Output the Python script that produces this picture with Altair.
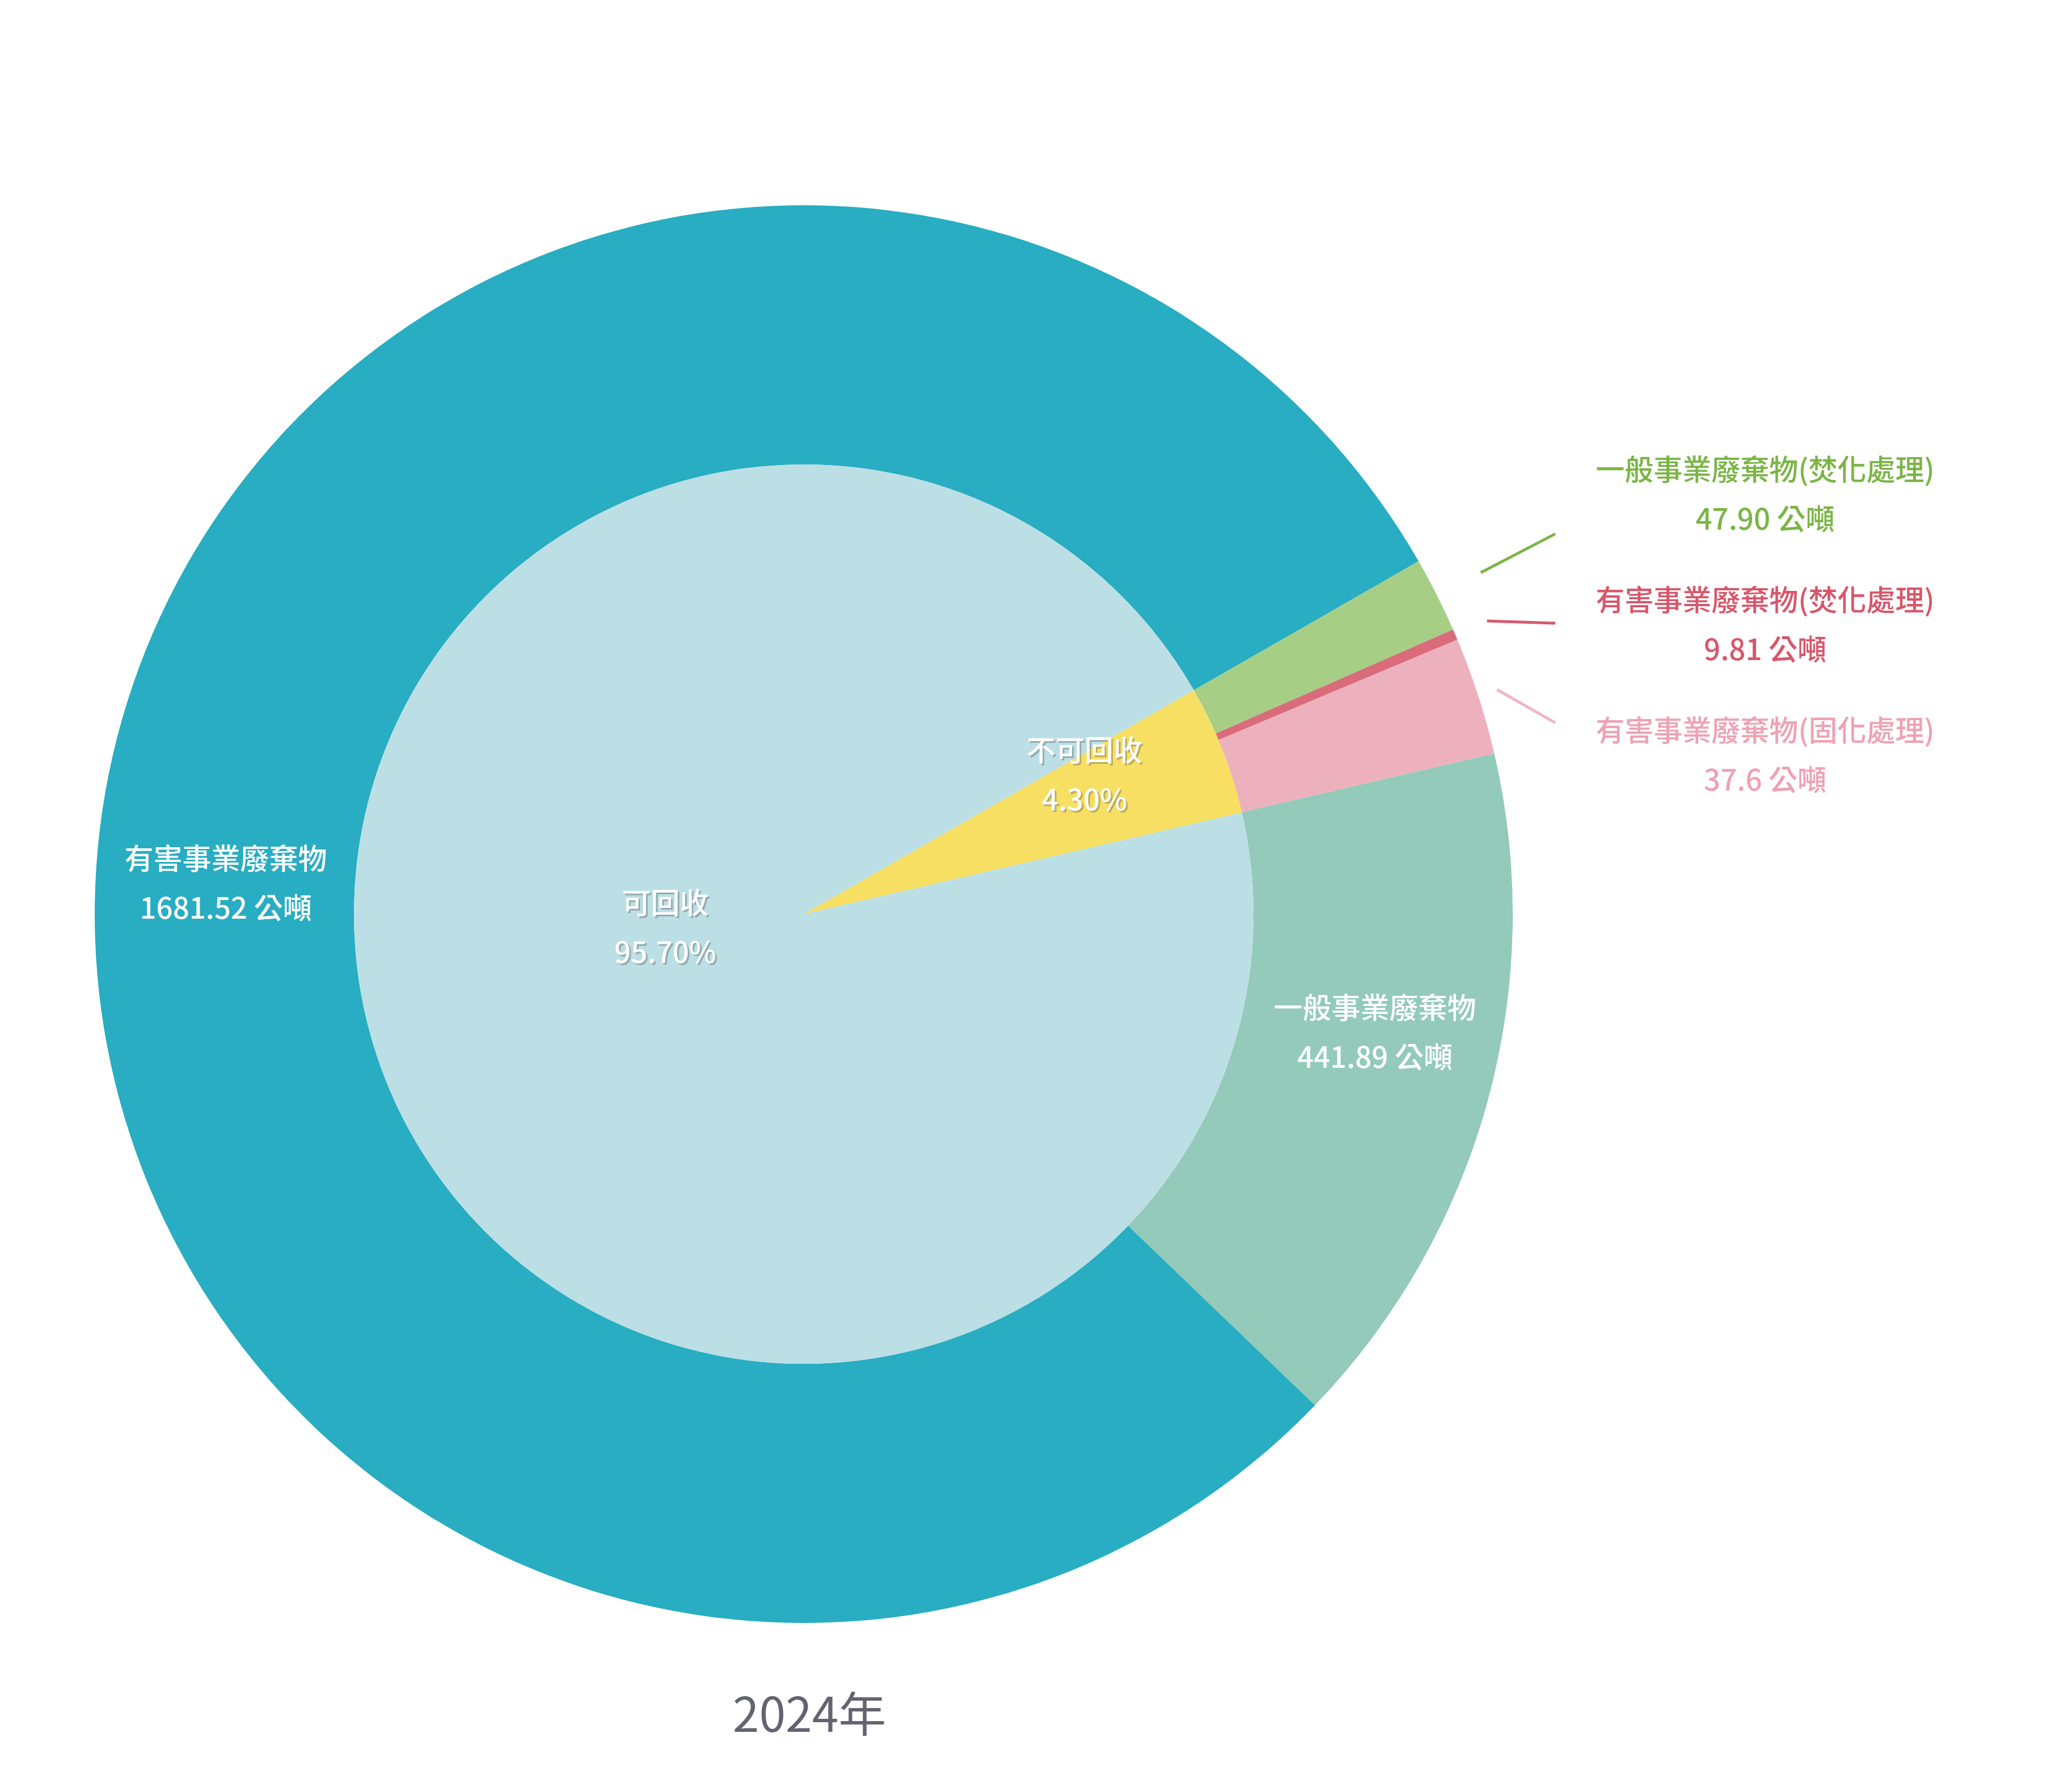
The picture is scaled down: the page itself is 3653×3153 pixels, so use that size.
import math
import altair as alt
import pandas as pd

# ---------------- data ----------------
outer_names = ["一般事業廢棄物(焚化處理)", "有害事業廢棄物(焚化處理)",
               "有害事業廢棄物(固化處理)", "一般事業廢棄物", "有害事業廢棄物"]
outer_tonnes = ["47.90", "9.81", "37.6", "441.89", "1681.52"]
# share of the outer ring (percent of the circle) as drawn in the picture
outer_share = [1.72, 0.25, 2.69, 15.82, 79.52]

inner_names = ["不可回收", "可回收"]
inner_pct = ["4.30%", "95.70%"]
# share of the inner pie (percent of the circle) as drawn in the picture
inner_share = [4.67, 95.33]

title_text = ["2024年"]

# ---------------- styles ----------------
outer_colors = ["#a6cf85", "#da6b7b", "#edb1bd", "#93cab9", "#28adc2"]
label_colors = ["#7ab545", "#d8566a", "#eea2b2"]
line_colors = ["#7cb446", "#d9596c", "#f1b6c2"]
inner_colors = ["#f7df64", "#bbdfe4"]

FONT = "Noto Sans CJK TC"
W, H = 3637, 3137
CX, CY = 1409, 1604
R_OUT, R_IN = 1250, 793
R_RING_LABEL = (R_OUT + R_IN) / 2
R_PIE_LABEL = R_IN / 2
START = math.radians(60.13)
RS0, RS_STEP = 1337, 26   # leader line start radius
EX = 2734                 # leader line end x
RLX = 3104                # right label x
LY0, LSTEP = 865, 230
FS = 51
LH = 87
UP = -41                  # shift so a two-line block is centred on its anchor

outer_df = pd.DataFrame({
    "name": outer_names,
    "share": outer_share,
    "idx": list(range(len(outer_names))),
    "label": [n + "\n" + t + " 公噸" for n, t in zip(outer_names, outer_tonnes)],
})
inner_df = pd.DataFrame({
    "name": inner_names,
    "share": inner_share,
    "idx": list(range(len(inner_names))),
    "label": [n + "\n" + p for n, p in zip(inner_names, inner_pct)],
})
title_df = pd.DataFrame({"t": title_text})

TS = alt.Scale(domain=[0, 100], range=[START, START + 2 * math.pi])


def with_angles(df):
    return (alt.Chart(df)
            .transform_window(cum="sum(share)",
                              sort=[alt.SortField("idx", order="ascending")],
                              frame=[None, 0])
            .transform_calculate(t0="datum.cum - datum.share")
            .transform_calculate(mid="datum.cum - datum.share / 2"))


ring = with_angles(outer_df).mark_arc(radius=R_OUT, radius2=R_IN).encode(
    theta=alt.Theta("t0:Q", scale=TS, stack=None),
    theta2="cum:Q",
    color=alt.Color("name:N", scale=alt.Scale(domain=outer_names, range=outer_colors), legend=None),
    x=alt.value(CX), y=alt.value(CY),
)

pie = with_angles(inner_df).mark_arc(radius=R_IN).encode(
    theta=alt.Theta("t0:Q", scale=TS, stack=None),
    theta2="cum:Q",
    color=alt.Color("name:N", scale=alt.Scale(domain=inner_names, range=inner_colors), legend=None),
    x=alt.value(CX), y=alt.value(CY),
)


def in_label(df, name, radius, dx, dy, color="white", opacity=1.0):
    return (with_angles(df)
            .transform_filter(alt.datum.name == name)
            .mark_text(radius=radius, dx=dx, dy=dy + UP, font=FONT, fontSize=FS, fontWeight=500,
                       lineBreak="\n", lineHeight=LH, align="center", baseline="middle",
                       color=color, opacity=opacity)
            .encode(theta=alt.Theta("mid:Q", scale=TS, stack=None),
                    text="label:N", x=alt.value(CX), y=alt.value(CY)))


teal_lab = in_label(outer_df, outer_names[4], R_RING_LABEL, -5, 71)
sea_lab = in_label(outer_df, outer_names[3], R_RING_LABEL, 22, -61)
blue_sh = in_label(inner_df, inner_names[1], R_PIE_LABEL, 128, -117, color="#3a3a3a", opacity=0.3)
blue_lab = in_label(inner_df, inner_names[1], R_PIE_LABEL, 125, -120)
yel_sh = in_label(inner_df, inner_names[0], R_PIE_LABEL, 129, -96, color="#3a3a3a", opacity=0.3)
yel_lab = in_label(inner_df, inner_names[0], R_PIE_LABEL, 126, -99)

small_names = outer_names[:3]

small = (with_angles(outer_df)
         .transform_filter("datum.idx < 3")
         .transform_calculate(a=f"{START} + 2 * PI * datum.mid / 100")
         .transform_calculate(rs=f"{RS0} - datum.idx * {RS_STEP}")
         .transform_calculate(sx=f"{CX} + datum.rs * sin(datum.a)")
         .transform_calculate(sy=f"{CY} - datum.rs * cos(datum.a)")
         .transform_calculate(ly=f"{LY0} + datum.idx * {LSTEP}")
         .transform_calculate(ey="(datum.sy + datum.ly) / 2"))

leaders = small.mark_rule(strokeWidth=5).encode(
    x=alt.X("sx:Q", scale=None, axis=None),
    y=alt.Y("sy:Q", scale=None, axis=None),
    x2=alt.value(EX),
    y2=alt.Y2("ey:Q"),
    color=alt.Color("name:N", scale=alt.Scale(domain=small_names, range=line_colors), legend=None),
)

right_labels = small.mark_text(font=FONT, fontSize=FS, fontWeight=500, lineBreak="\n",
                               lineHeight=LH, align="center", baseline="middle", dy=UP).encode(
    x=alt.value(RLX),
    y=alt.Y("ly:Q", scale=None, axis=None),
    text="label:N",
    color=alt.Color("name:N", scale=alt.Scale(domain=small_names, range=label_colors), legend=None),
)

title = alt.Chart(title_df).mark_text(font=FONT, fontSize=84, color="#62646f",
                                      align="center", baseline="middle").encode(
    text="t:N", x=alt.value(1419), y=alt.value(3021))

chart = (alt.layer(ring, pie, teal_lab, sea_lab, blue_sh, blue_lab, yel_sh, yel_lab,
                   leaders, right_labels, title)
         .resolve_scale(color="independent")
         .properties(width=W, height=H, autosize=alt.AutoSizeParams(type="none"), padding=0,
                     background="white")
         .configure_view(stroke=None))

chart.save("out.html", embed_options={"renderer": "svg", "actions": False})
